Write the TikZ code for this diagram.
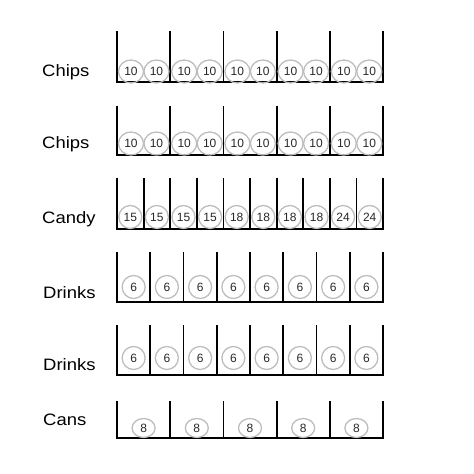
\documentclass[tikz,border=0pt]{standalone}
\usepackage{fontspec}
\setmainfont{Liberation Sans}
\usetikzlibrary{shapes.geometric}
\definecolor{coingray}{HTML}{BDBDBD}
\definecolor{numgray}{HTML}{282828}
\newcommand\drawtray[3]{%
  \draw[tray] (117,#1) -- (117,#2) -- (383,#2) -- (383,#1);
  \pgfmathtruncatemacro\lastk{#3-1}%
  \foreach \k in {1,...,\lastk} \draw[tray] ({117+\k*266/#3},#1) -- ({117+\k*266/#3},#2);}
\begin{document}
\begin{tikzpicture}[x=1pt,y=-1pt,
  tray/.style={line width=1.8pt, black, line cap=rect},
  coin/.style={ellipse, draw=coingray, line width=1.3pt, inner sep=0pt, font=\fontsize{12}{12}\selectfont, text=numgray},
  chipcoin/.style={coin, minimum width=25pt, minimum height=23pt},
  candycoin/.style={coin, minimum width=23pt, minimum height=23pt},
  drinkcoin/.style={coin, minimum width=23pt, minimum height=23pt},
  cancoin/.style={coin, minimum width=23pt, minimum height=19pt},
  lbl/.style={anchor=base west, inner sep=0pt, font=\fontsize{16.5}{16.5}\selectfont, xscale=1.12}]
\useasboundingbox (0,0) rectangle (474,474);

% labels
\node[lbl] (l1) at (42,76.5) {Chips};
\node[lbl] (l2) at (42,148) {Chips};
\node[lbl] (l3) at (42,223) {Candy};
\node[lbl] (l4) at (43,298) {Drinks};
\node[lbl] (l5) at (43,370) {Drinks};
\node[lbl] (l6) at (43,425) {Cans};

% trays
\drawtray{32}{82}{5}
\drawtray{107}{155}{5}
\drawtray{179}{229}{10}
\drawtray{253}{302}{8}
\drawtray{326}{375}{8}
\drawtray{402}{438}{5}

% chips rows
\foreach \k in {0,...,4} {
  \node[chipcoin] (a\k l) at ({117+\k*53.2+14}, 71.5) {10};
  \node[chipcoin] (a\k r) at ({117+\k*53.2+39.5}, 71.5) {10};
  \node[chipcoin] (b\k l) at ({117+\k*53.2+14}, 143.5) {10};
  \node[chipcoin] (b\k r) at ({117+\k*53.2+39.5}, 143.5) {10};
}
% candy
\foreach \v [count=\k from 0] in {15,15,15,15,18,18,18,18,24,24}
  \node[candycoin] (c\k) at ({117+(\k+0.5)*26.6}, 217) {\v};
% drinks
\foreach \k in {0,...,7} {
  \node[drinkcoin] (d\k) at ({117+(\k+0.5)*33.25}, 287) {6};
  \node[drinkcoin] (e\k) at ({117+(\k+0.5)*33.25}, 358) {6};
}
% cans
\foreach \k in {0,...,4}
  \node[cancoin] (f\k) at ({117+(\k+0.5)*53.2}, 428) {8};
\end{tikzpicture}
\end{document}
